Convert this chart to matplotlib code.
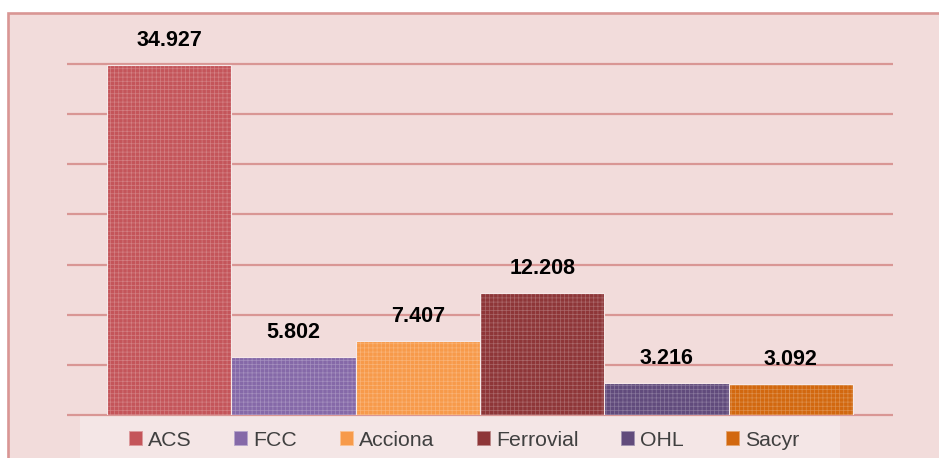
import matplotlib
matplotlib.use("Agg")
import matplotlib.pyplot as plt
from matplotlib.patches import Rectangle, Patch
import matplotlib.colors as mcolors

companies = ["ACS", "FCC", "Acciona", "Ferrovial", "OHL", "Sacyr"]
values = [34927, 5802, 7407, 12208, 3216, 3092]
colors = ["#C4555A", "#8569A8", "#F79A4A", "#8E3638", "#614B7C", "#D2680F"]
yticks = [0, 5000, 10000, 15000, 20000, 25000, 30000, 35000]

BG = "#F2DCDB"
LINE = "#D99694"

plt.rcParams["font.family"] = ["Liberation Sans", "DejaVu Sans"]
plt.rcParams["hatch.linewidth"] = 0.5

W, H = 939, 458
fig = plt.figure(figsize=(W / 100, H / 100), dpi=100, facecolor="white")

# chart area with border (top and left visible)
fig.patches.append(Rectangle((8 / W, -0.1), 1.1, (H - 12.5) / H + 0.1,
                             transform=fig.transFigure, facecolor=BG,
                             edgecolor=LINE, linewidth=1.9, zorder=-2))
# legend background box
fig.patches.append(Rectangle((80 / W, -0.05), 760 / W, (H - 416) / H + 0.05,
                             transform=fig.transFigure, facecolor="#F4E6E6",
                             edgecolor="none", zorder=-1))

ax = fig.add_axes([67 / W, 43 / H, 826 / W, 351 / H])
ax.set_zorder(1)
ax.set_facecolor("none")
ax.set_xlim(-0.822, 5.822)
ax.set_ylim(0, 35000)

ax.hlines(yticks, 0, 1, transform=ax.get_yaxis_transform(), colors=LINE,
          linewidth=1.6, clip_on=False, zorder=1)

def lighten(c, f):
    r, g, b = mcolors.to_rgb(c)
    return (r + (1 - r) * f, g + (1 - g) * f, b + (1 - b) * f)

xs = list(range(len(companies)))
bars = ax.bar(xs, values, width=1.0, color=colors, edgecolor="#F6E8E8",
              linewidth=0.8, zorder=2)
for b, c in zip(bars, colors):
    b.set_hatch("++++")
    b._hatch_color = mcolors.to_rgba(lighten(c, 0.25))

for x, v in zip(xs, values):
    label = f"{v:,}".replace(",", ".")
    ax.annotate(label, (x, v), xytext=(0, 17.5), textcoords="offset points",
                ha="center", va="center", fontsize=15.5, fontweight="bold",
                color="black", annotation_clip=False, zorder=4)

for s in ax.spines.values():
    s.set_visible(False)
ax.set_xticks([])
ax.set_yticks([])

handles = [Patch(facecolor=c, edgecolor=lighten(c, 0.4), linewidth=0.6) for c in colors]
leg = fig.legend(handles, companies, loc="center left",
                 bbox_to_anchor=(129 / W, (H - 440) / H),
                 bbox_transform=fig.transFigure,
                 ncol=6, fontsize=15.3, frameon=False,
                 handlelength=0.62, handleheight=0.62, handletextpad=0.28,
                 columnspacing=2.0, borderaxespad=0, borderpad=0,
                 labelcolor="#404040")

fig.savefig("out.png", dpi=100, facecolor="white")
